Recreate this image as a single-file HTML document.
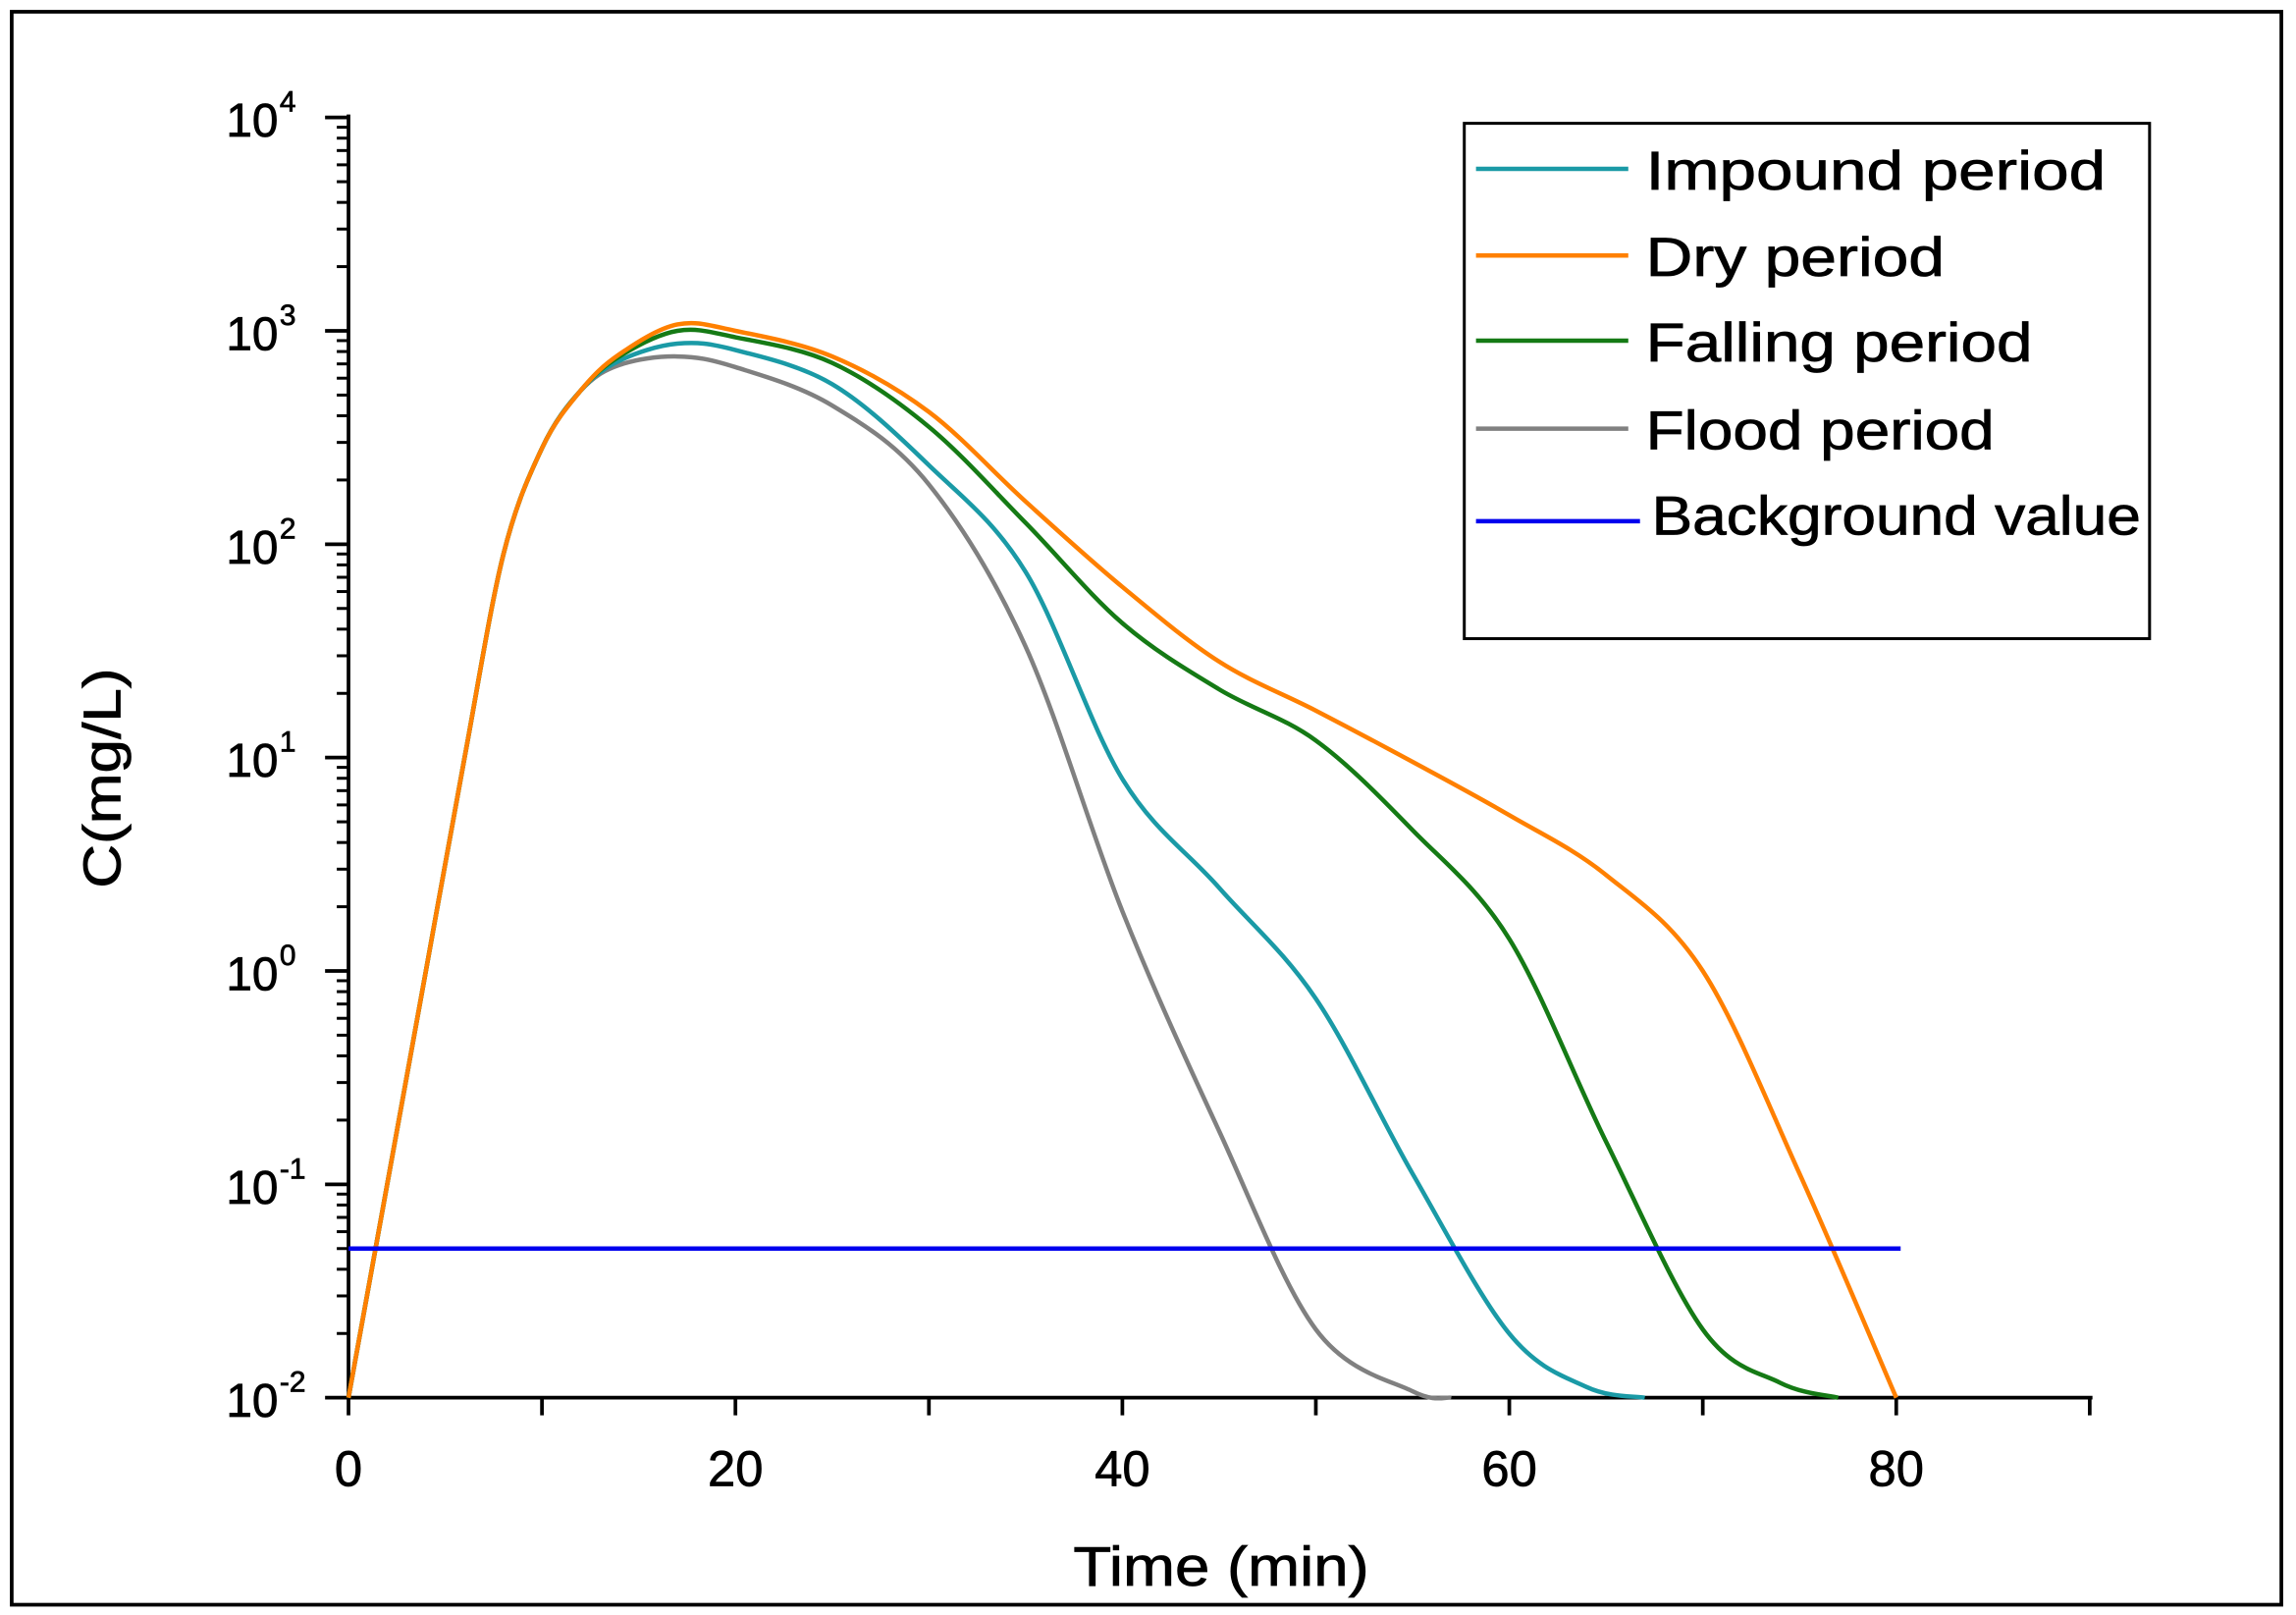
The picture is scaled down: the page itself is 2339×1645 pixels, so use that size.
<!DOCTYPE html>
<html><head><meta charset="utf-8"><style>
html,body{margin:0;padding:0;background:#fff}
svg{display:block}
text{font-family:"Liberation Sans",sans-serif;fill:#000;stroke:#000;stroke-width:0.5}
</style></head><body>
<svg id="s" width="2339" height="1645" viewBox="0 0 1568 1100" preserveAspectRatio="none" xmlns="http://www.w3.org/2000/svg">
<rect x="8" y="8" width="1550" height="1085" fill="#fff" stroke="#000" stroke-width="2.5"/>
<g id="ax" stroke="#000" stroke-width="2.5"></g>
<g id="lab" font-size="32"></g>
<g id="curves" fill="none" stroke-width="3"></g>
<text x="733" y="1080" font-size="38" textLength="202" lengthAdjust="spacingAndGlyphs">Time (min)</text>
<text transform="translate(82,605) rotate(-90)" font-size="36" textLength="150" lengthAdjust="spacingAndGlyphs">C(mg/L)</text>
<rect x="1000" y="84" width="468" height="351" fill="#fff" stroke="#000" stroke-width="2"/>
<g stroke-width="3">
<line x1="1008" y1="115" x2="1112" y2="115" stroke="#1a9aa6"/>
<line x1="1008" y1="174" x2="1112" y2="174" stroke="#ff8000"/>
<line x1="1008" y1="232" x2="1112" y2="232" stroke="#157a15"/>
<line x1="1008" y1="292" x2="1112" y2="292" stroke="#808080"/>
<line x1="1008" y1="355" x2="1120" y2="355" stroke="#0000ee"/>
</g>
<g font-size="37">
<text x="1124" y="129" textLength="314" lengthAdjust="spacingAndGlyphs">Impound period</text>
<text x="1124" y="188" textLength="204" lengthAdjust="spacingAndGlyphs">Dry period</text>
<text x="1124" y="246" textLength="264" lengthAdjust="spacingAndGlyphs">Falling period</text>
<text x="1124" y="306" textLength="238" lengthAdjust="spacingAndGlyphs">Flood period</text>
<text x="1128" y="364" textLength="334" lengthAdjust="spacingAndGlyphs">Background value</text>
</g>
</svg>
<script>
var NS="http://www.w3.org/2000/svg";
function X(t){return 238+t*13.2125}
function Y(l){return 952-(l+2)*145.33}
function el(p,tag,a,txt){var e=document.createElementNS(NS,tag);for(var k in a)e.setAttribute(k,a[k]);if(txt)e.textContent=txt;p.appendChild(e);return e}
var ax=document.getElementById('ax'),lab=document.getElementById('lab');
el(ax,'line',{x1:238,y1:78,x2:238,y2:953});
el(ax,'line',{x1:237,y1:952,x2:1429,y2:952});
for(var t=0;t<=90;t+=10){el(ax,'line',{x1:X(t),y1:952,x2:X(t),y2:964});}
for(var t=0;t<=80;t+=20){el(lab,'text',{x:X(t),y:1012,'text-anchor':'middle','font-size':34},String(t));}
var labs=['-2','-1','0','1','2','3','4'];
for(var d=-2;d<=4;d++){
 var y=Y(d);el(ax,'line',{x1:222,y1:y,x2:238,y2:y});
 el(lab,'text',{x:190,y:y+13,'text-anchor':'end','font-size':32},'10');
 el(lab,'text',{x:191,y:y-4,'font-size':20},labs[d+2]);
 if(d<4)for(var m=2;m<=9;m++){var yy=Y(d+Math.log10(m));el(ax,'line',{x1:230,y1:yy,x2:238,y2:yy,'stroke-width':2});}
}
function path(pts,col){
 var P=pts.map(function(p){return [X(p[0]),Y(p[1])]});
 var d='M'+P[0][0]+','+P[0][1];
 for(var i=0;i<P.length-1;i++){
  var p0=P[i-1]||P[i],p1=P[i],p2=P[i+1],p3=P[i+2]||P[i+1];
  var c1=[p1[0]+(p2[0]-p0[0])/6,p1[1]+(p2[1]-p0[1])/6],c2=[p2[0]-(p3[0]-p1[0])/6,p2[1]-(p3[1]-p1[1])/6];
  d+=' C'+c1+' '+c2+' '+p2;
 }
 el(document.getElementById('curves'),'path',{d:d,stroke:col});
}
var rise=[[0,-2],[2,-1],[4,0],[6,1],[8,1.95],[10,2.45],[12,2.72]];
path(rise.concat([[14,2.84],[17,2.88],[20,2.83],[25,2.65],[30,2.28],[35,1.52],[40,0.28],[45,-0.75],[50,-1.68],[55,-1.97],[57,-2]]),'#808080');
path(rise.concat([[14,2.86],[17,2.94],[20,2.91],[25,2.75],[30,2.37],[35,1.87],[40,0.9],[45,0.39],[50,-0.13],[55,-0.95],[60,-1.7],[64,-1.95],[67,-2]]),'#1a9aa6');
path(rise.concat([[14,2.88],[17,3.0],[20,2.97],[25,2.85],[30,2.55],[35,2.1],[40,1.63],[45,1.32],[50,1.08],[55,0.66],[60,0.15],[65,-0.8],[70,-1.68],[74,-1.93],[77,-2]]),'#157a15');
path(rise.concat([[14,2.89],[17,3.03],[20,3.0],[25,2.88],[30,2.62],[35,2.2],[40,1.8],[45,1.45],[50,1.22],[55,0.98],[60,0.73],[65,0.45],[70,0.0],[75,-0.95],[80,-2]]),'#ff8000');
el(document.getElementById('curves'),'line',{x1:238,y1:Y(Math.log10(0.05)),x2:1298,y2:Y(Math.log10(0.05)),stroke:'#0000ee'});
</script>
</body></html>
